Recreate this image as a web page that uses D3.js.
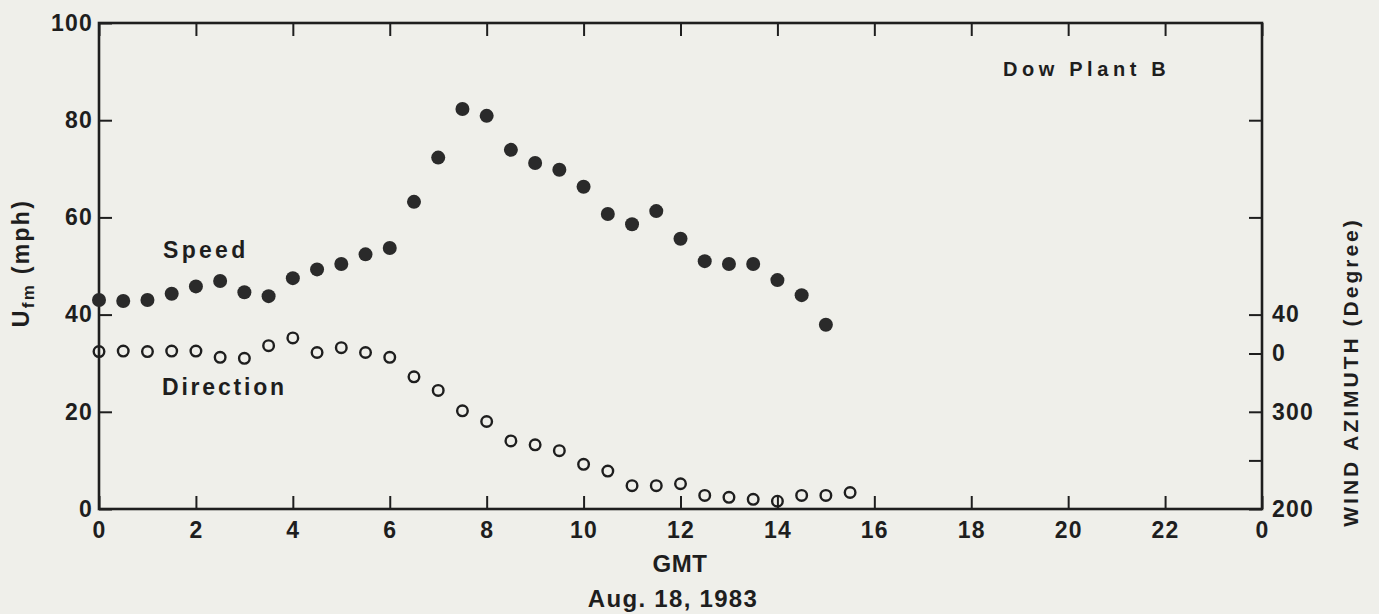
<!DOCTYPE html>
<html><head><meta charset="utf-8">
<script src="https://cdn.jsdelivr.net/npm/d3@7"></script>
<style>
body{margin:0;background:#efefea;}
svg{display:block;}
text{font-family:"Liberation Sans",Arial,sans-serif;fill:#1e1e1e;}
</style></head><body>
<svg id="chart" width="1379" height="614"></svg>
<script>
// Hours (GMT)
const speedHours = [0,0.5,1,1.5,2,2.5,3,3.5,4,4.5,5,5.5,6,6.5,7,7.5,8,8.5,9,9.5,10,10.5,11,11.5,12,12.5,13,13.5,14,14.5,15];
const speedValues = [43,42.8,43,44.3,45.8,46.9,44.6,43.8,47.5,49.3,50.4,52.4,53.7,63.2,72.3,82.3,80.9,73.9,71.2,69.8,66.3,60.7,58.6,61.3,55.6,51,50.4,50.4,47.1,44,37.9];
const dirHours = [0,0.5,1,1.5,2,2.5,3,3.5,4,4.5,5,5.5,6,6.5,7,7.5,8,8.5,9,9.5,10,10.5,11,11.5,12,12.5,13,13.5,14,14.5,15,15.5];
const dirValues = [2,2.5,2,2.5,2.5,356,355,8,16,1,6,1,356,336,322,301,290,270,266,260,246,239,224,224,226,214,212,210,208,214,214,217];
const xTicks = [0,2,4,6,8,10,12,14,16,18,20,22,24];
const yTicks = [0,20,40,60,80,100];
const azTicks = [200,250,300,360,400,500,600];
const azLabels = {200:"200",300:"300",360:"0",400:"40"};

const svg = d3.select("#chart");
const L = 99, R = 1262, T = 23, B = 509;
const x = d3.scaleLinear().domain([0,24]).range([L,R]);
const y = d3.scaleLinear().domain([0,100]).range([B,T]);
const az = d3.scaleLinear().domain([200,700]).range([B,T]);
const unwrap = d => d < 180 ? d + 360 : d;

// frame
svg.append("rect").attr("x",L).attr("y",T).attr("width",R-L).attr("height",B-T)
  .attr("fill","none").attr("stroke","#1e1e1e").attr("stroke-width",2.6);

const tickLen = 13;
const fs = 23;
const bottom = svg.append("g").attr("transform",`translate(0,${B})`)
  .call(d3.axisBottom(x).tickValues(xTicks).tickSize(-tickLen).tickPadding(13).tickFormat(d=>d===24?"0":d));
svg.append("g").attr("transform",`translate(0,${T})`)
  .call(d3.axisTop(x).tickValues(xTicks).tickSize(-tickLen).tickFormat(""));
svg.append("g").attr("transform",`translate(${L},0)`)
  .call(d3.axisLeft(y).tickValues(yTicks).tickSize(-tickLen).tickPadding(6));
svg.append("g").attr("transform",`translate(${R},0)`)
  .call(d3.axisRight(az).tickValues(azTicks).tickSize(-tickLen).tickPadding(10).tickFormat(d=>azLabels[d]||""));

svg.selectAll(".domain").remove();
svg.selectAll(".tick line").attr("stroke","#1e1e1e").attr("stroke-width",2);
svg.selectAll(".tick text").attr("font-size",fs).attr("font-weight","bold").attr("fill","#1e1e1e")
  .attr("letter-spacing",1.2).style("font-family","'Liberation Sans',Arial,sans-serif");

// speed points
svg.append("g").selectAll("circle").data(speedHours).join("circle")
  .attr("cx",(d,i)=>x(d)).attr("cy",(d,i)=>y(speedValues[i])).attr("r",7).attr("fill","#2a2a2a");
// direction points
svg.append("g").selectAll("circle").data(dirHours).join("circle")
  .attr("cx",(d,i)=>x(d)).attr("cy",(d,i)=>az(unwrap(dirValues[i]))).attr("r",5.3)
  .attr("fill","none").attr("stroke","#1e1e1e").attr("stroke-width",2.4);

// annotations
svg.append("text").attr("x",163).attr("y",258).attr("font-size",23).attr("font-weight","bold").attr("letter-spacing",3.3).text("Speed");
svg.append("text").attr("x",162).attr("y",395).attr("font-size",23).attr("font-weight","bold").attr("letter-spacing",2.8).text("Direction");
svg.append("text").attr("x",1003).attr("y",76).attr("font-size",20).attr("font-weight","bold").attr("letter-spacing",4.6).text("Dow Plant B");

// axis titles
svg.append("text").attr("x",680).attr("y",572).attr("text-anchor","middle").attr("font-size",24).attr("font-weight","bold").attr("letter-spacing",0.5).text("GMT");
svg.append("text").attr("x",673).attr("y",607).attr("text-anchor","middle").attr("font-size",24).attr("font-weight","bold").attr("letter-spacing",1.3).text("Aug. 18, 1983");

const yl = svg.append("text").attr("transform","translate(29,263) rotate(-90)").attr("text-anchor","middle")
  .attr("font-size",23).attr("font-weight","bold").attr("letter-spacing",2.3);
yl.append("tspan").text("U");
yl.append("tspan").attr("font-size",17).attr("dy",5).text("fm");
yl.append("tspan").attr("dy",-5).text(" (mph)");

svg.append("text").attr("transform","translate(1358,372) rotate(-90)").attr("text-anchor","middle")
  .attr("font-size",21).attr("font-weight","bold").attr("letter-spacing",3).text("WIND AZIMUTH (Degree)");
</script>
</body></html>
